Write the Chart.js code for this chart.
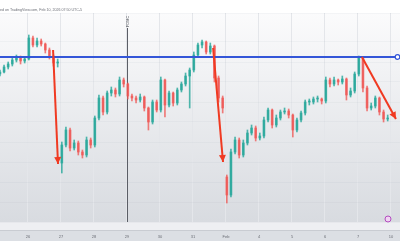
<!DOCTYPE html>
<html>
<head>
<meta charset="utf-8">
<script src="https://cdn.jsdelivr.net/npm/chart.js@4.4.1/dist/chart.umd.min.js"></script>
<style>
  html, body { margin: 0; padding: 0; background: #fff; }
  #wrap { width: 400px; height: 250px; }
</style>
</head>
<body>
<div id="wrap"><canvas id="chart"></canvas></div>
<script>
// Day labels on the time axis (one per trading day)
const dayLabels = ['26', '27', '28', '29', '30', '31', 'Feb', '4', '5', '6', '7', '10'];

// Candles, 8 per day, starting a bit before the "26" label
const firstCandleDay = -0.85;
const candlesPerDay = 8;
const firstOpen = 148;
const closes = [150, 155, 158, 162, 164, 161, 163, 184, 177, 181, 178, 172, 165, 159, 160,
  77, 92, 74, 79, 70, 67, 82, 77, 104, 124, 110, 129, 132, 128, 142, 138, 126, 124, 122, 125,
  114, 100, 120, 112, 142, 117, 129, 119, 132, 138, 146, 152, 167, 177, 180, 170, 176, 144, 124, 114,
  27, 70, 82, 67, 79, 89, 94, 84, 86, 102, 112, 97, 104, 110, 111, 107, 92, 102, 109, 120,
  120, 123, 123, 121, 142, 138, 142, 140, 143, 127, 131, 148, 164, 134, 114, 116, 124, 110, 103, 104];
const highs = [152, 157, 160, 164, 167, 166, 165, 187, 186, 184, 183, 179, 174, 167, 163,
  80, 95, 94, 82, 81, 72, 85, 84, 106, 127, 126, 131, 135, 134, 145, 144, 139, 128, 126, 128,
  126, 115, 122, 122, 145, 143, 131, 130, 134, 140, 149, 154, 170, 179, 182, 181, 179, 177, 146, 126,
  47, 73, 85, 84, 82, 92, 97, 96, 89, 105, 114, 113, 107, 112, 114, 113, 108, 104, 111, 122,
  123, 125, 126, 124, 145, 144, 145, 143, 146, 144, 134, 150, 166, 165, 136, 119, 126, 125, 112, 107];
const lows = [146, 149, 153, 156, 160, 158, 159, 162, 175, 175, 176, 169, 163, 156, 155,
  49, 75, 71, 72, 67, 64, 65, 74, 75, 102, 107, 108, 126, 125, 126, 135, 123, 121, 119, 120,
  111, 92, 98, 110, 110, 105, 115, 116, 117, 130, 136, 114, 150, 165, 174, 168, 168, 140, 120, 109,
  19, 25, 68, 64, 65, 77, 87, 81, 82, 84, 100, 94, 95, 102, 108, 104, 85, 90, 100, 107,
  117, 118, 120, 118, 119, 135, 136, 137, 138, 122, 125, 129, 146, 130, 111, 112, 114, 107, 100, 101];
// Candles that open on a gap (index -> open)
const gapOpens = { 15: 59, 55: 45 };

// Drawings
const levelPrice = 165;
const eventDay = 3;
const eventLabel = 'FOMC';
const arrowStarts = [[0.76, 172], [5.61, 174], [10.12, 165]];
const arrowEnds = [[0.91, 58], [5.91, 60], [11.15, 103]];

const xMin = -0.848;
const xMax = 11.273;
const upColor = 'rgba(38,166,154,0.8)';
const downColor = 'rgba(239,83,80,0.75)';
const arrowColor = '#f03a22';
const levelColor = '#3356d8';

const opens = closes.map((c, i) => (i in gapOpens) ? gapOpens[i] : (i === 0 ? firstOpen : closes[i - 1]));
const xs = closes.map((c, i) => firstCandleDay + i / candlesPerDay);
const isUp = closes.map((c, i) => c >= opens[i]);
const candleColor = ctx => isUp[ctx.dataIndex] ? upColor : downColor;

const datasets = [
  {
    type: 'bar', order: 5, grouped: false, barThickness: 1, borderWidth: 0,
    data: xs.map((x, i) => ({ x: x, y: [lows[i], highs[i]] })),
    backgroundColor: candleColor
  },
  {
    type: 'bar', order: 4, grouped: false, barThickness: 2, borderWidth: 0, minBarLength: 1,
    data: xs.map((x, i) => ({ x: x, y: [opens[i], closes[i]] })),
    backgroundColor: candleColor
  },
  {
    type: 'line', order: 2,
    data: [{ x: xMin, y: levelPrice }, { x: 11.22, y: levelPrice }],
    borderColor: levelColor, borderWidth: 2, pointRadius: 0
  }
];
arrowStarts.forEach((s, i) => {
  datasets.push({
    type: 'line', order: 1, isArrow: true,
    data: [{ x: s[0], y: s[1] }, { x: arrowEnds[i][0], y: arrowEnds[i][1] }],
    borderColor: arrowColor, borderWidth: 2, pointRadius: 0
  });
});

const decor = {
  id: 'decor',
  beforeDraw(chart) {
    const { ctx, chartArea: a, width, height } = chart;
    ctx.save();
    ctx.fillStyle = '#ffffff';
    ctx.fillRect(0, 0, width, height);
    const g = ctx.createLinearGradient(0, a.top, 0, a.bottom);
    g.addColorStop(0, '#fbfbfc');
    g.addColorStop(1, '#d8dbe0');
    ctx.fillStyle = g;
    ctx.fillRect(a.left, a.top, a.right - a.left, a.bottom - a.top);
    ctx.fillStyle = '#eeeff2';
    ctx.fillRect(0, a.bottom, width, 8);
    ctx.fillStyle = '#c9ccd2';
    ctx.fillRect(0, a.bottom + 8, width, 1);
    ctx.fillStyle = '#dcdfe4';
    ctx.fillRect(0, a.bottom + 9, width, 10);
    // header line
    ctx.font = '3.6px "Liberation Sans", Arial, sans-serif';
    ctx.fillStyle = '#6a6d75';
    ctx.textBaseline = 'middle';
    const head = 'Published on TradingView.com, Feb 10, 2026 07:50 UTC-5';
    ctx.fillText(head, -ctx.measureText('Publish').width, 10);
    ctx.restore();
  },
  beforeDatasetsDraw(chart) {
    const { ctx, chartArea: a, scales } = chart;
    const ex = Math.round(scales.x.getPixelForValue(eventDay)) + 0.5;
    ctx.save();
    ctx.strokeStyle = '#5b5e66';
    ctx.lineWidth = 1;
    ctx.beginPath();
    ctx.moveTo(ex, a.top + 15);
    ctx.lineTo(ex, a.bottom);
    ctx.stroke();
    ctx.translate(ex, a.top + 14);
    ctx.rotate(-Math.PI / 2);
    ctx.font = '3.8px "Liberation Sans", Arial, sans-serif';
    ctx.fillStyle = '#3d4048';
    ctx.textBaseline = 'middle';
    ctx.textAlign = 'left';
    ctx.fillText(eventLabel, 0, 0);
    ctx.restore();
    // event marker bottom right
    ctx.save();
    ctx.beginPath();
    ctx.arc(388, a.bottom - 3, 3, 0, Math.PI * 2);
    ctx.fillStyle = '#f0d3f2';
    ctx.fill();
    ctx.strokeStyle = '#b24cbf';
    ctx.lineWidth = 1;
    ctx.stroke();
    ctx.restore();
  },
  afterDatasetsDraw(chart) {
    const { ctx } = chart;
    ctx.save();
    chart.data.datasets.forEach((ds, i) => {
      if (!ds.isArrow) return;
      const pts = chart.getDatasetMeta(i).data;
      const p0 = pts[0], p1 = pts[1];
      const ang = Math.atan2(p1.y - p0.y, p1.x - p0.x);
      const len = 7, half = 3.5;
      ctx.fillStyle = arrowColor;
      ctx.beginPath();
      ctx.moveTo(p1.x, p1.y);
      ctx.lineTo(p1.x - len * Math.cos(ang) + half * Math.sin(ang), p1.y - len * Math.sin(ang) - half * Math.cos(ang));
      ctx.lineTo(p1.x - len * Math.cos(ang) - half * Math.sin(ang), p1.y - len * Math.sin(ang) + half * Math.cos(ang));
      ctx.closePath();
      ctx.fill();
    });
    // level line handle
    const ly = chart.scales.y.getPixelForValue(levelPrice);
    ctx.beginPath();
    ctx.arc(397.5, ly, 2.3, 0, Math.PI * 2);
    ctx.fillStyle = '#ffffff';
    ctx.fill();
    ctx.strokeStyle = levelColor;
    ctx.lineWidth = 1.2;
    ctx.stroke();
    ctx.restore();
  }
};

new Chart(document.getElementById('chart'), {
  type: 'bar',
  data: { datasets: datasets },
  plugins: [decor],
  options: {
    responsive: true,
    maintainAspectRatio: false,
    devicePixelRatio: 1,
    animation: false,
    layout: { padding: { top: 13, left: 0, right: 0, bottom: 0 } },
    plugins: { legend: { display: false }, tooltip: { enabled: false } },
    scales: {
      x: {
        type: 'linear', min: xMin, max: xMax, offset: false,
        afterBuildTicks: s => { s.ticks = dayLabels.map((l, i) => ({ value: i })); },
        afterFit: s => { s.height = 28; s.paddingLeft = 0; s.paddingRight = 0; },
        border: { display: false },
        grid: {
          offset: false, drawTicks: true, tickLength: 12, tickColor: 'rgba(0,0,0,0)',
          color: '#e4e6ea'
        },
        ticks: {
          autoSkip: false, maxRotation: 0, padding: 0,
          color: '#6a6d75',
          font: { size: 4, family: '"Liberation Sans", Arial, sans-serif' },
          callback: v => dayLabels[v] !== undefined ? dayLabels[v] : ''
        }
      },
      y: {
        min: 0, max: 209,
        afterFit: s => { s.width = 0; },
        border: { display: false },
        grid: { drawTicks: false, color: 'rgba(120,130,150,0.06)' },
        ticks: { display: false, stepSize: 20 }
      }
    }
  }
});
</script>
</body>
</html>
